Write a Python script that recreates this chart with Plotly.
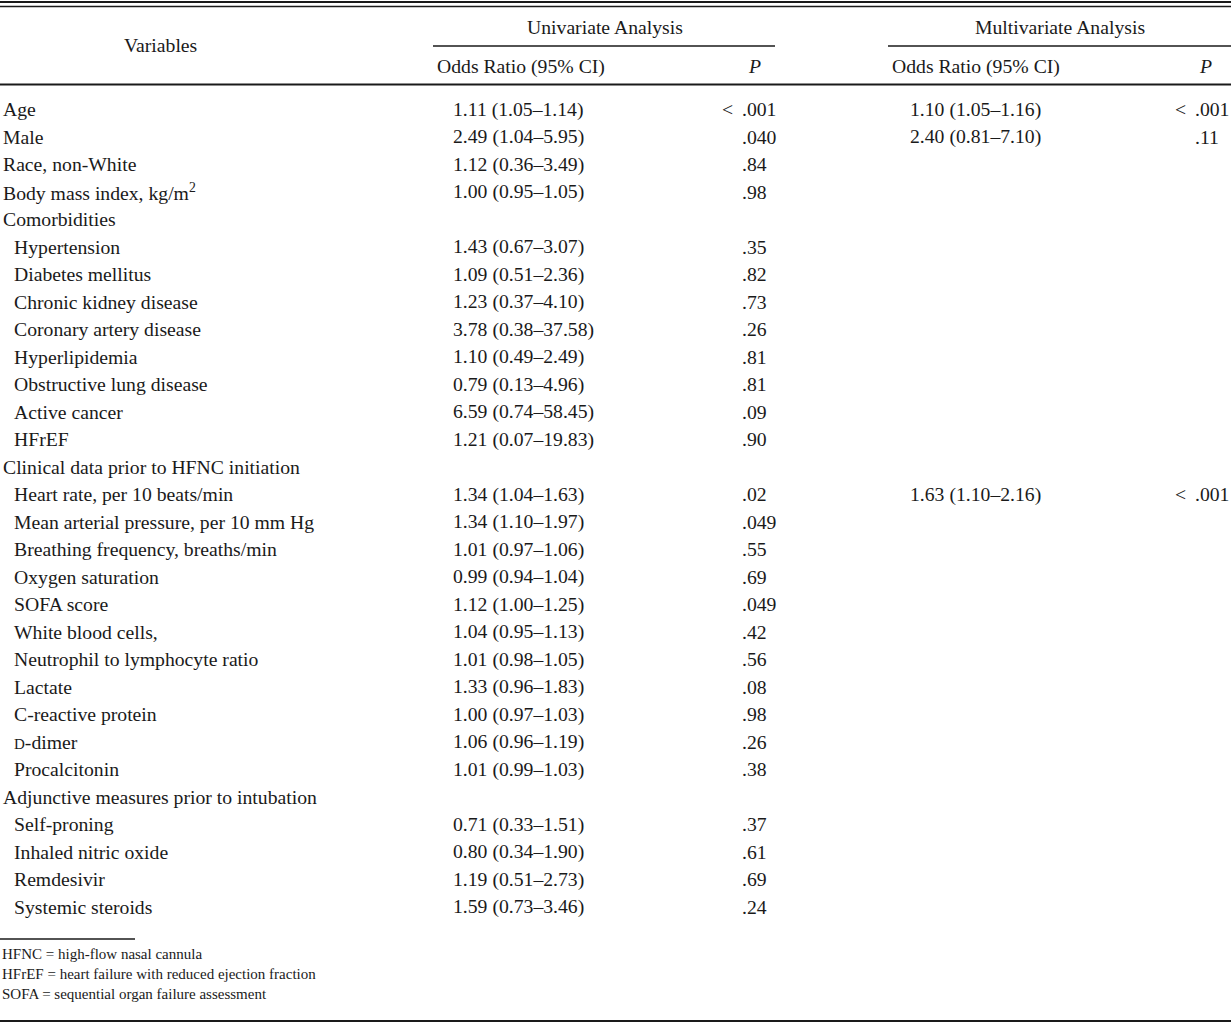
import plotly.graph_objects as go

# ---------------- data ----------------
variables = [
    "Age", "Male", "Race, non-White", "Body mass index, kg/m<sup>2</sup>",
    "Comorbidities", "Hypertension", "Diabetes mellitus", "Chronic kidney disease",
    "Coronary artery disease", "Hyperlipidemia", "Obstructive lung disease",
    "Active cancer", "HFrEF",
    "Clinical data prior to HFNC initiation", "Heart rate, per 10 beats/min",
    "Mean arterial pressure, per 10 mm Hg", "Breathing frequency, breaths/min",
    "Oxygen saturation", "SOFA score", "White blood cells,",
    "Neutrophil to lymphocyte ratio", "Lactate", "C-reactive protein",
    "<span style='font-size:15px'>D</span>-dimer", "Procalcitonin",
    "Adjunctive measures prior to intubation", "Self-proning",
    "Inhaled nitric oxide", "Remdesivir", "Systemic steroids",
]
indent = [0, 0, 0, 0,
          0, 1, 1, 1, 1, 1, 1, 1, 1,
          0, 1, 1, 1, 1, 1, 1, 1, 1, 1, 1, 1,
          0, 1, 1, 1, 1]
uni_or = [
    "1.11 (1.05–1.14)", "2.49 (1.04–5.95)", "1.12 (0.36–3.49)", "1.00 (0.95–1.05)",
    "", "1.43 (0.67–3.07)", "1.09 (0.51–2.36)", "1.23 (0.37–4.10)",
    "3.78 (0.38–37.58)", "1.10 (0.49–2.49)", "0.79 (0.13–4.96)",
    "6.59 (0.74–58.45)", "1.21 (0.07–19.83)",
    "", "1.34 (1.04–1.63)", "1.34 (1.10–1.97)", "1.01 (0.97–1.06)",
    "0.99 (0.94–1.04)", "1.12 (1.00–1.25)", "1.04 (0.95–1.13)",
    "1.01 (0.98–1.05)", "1.33 (0.96–1.83)", "1.00 (0.97–1.03)",
    "1.06 (0.96–1.19)", "1.01 (0.99–1.03)",
    "", "0.71 (0.33–1.51)", "0.80 (0.34–1.90)", "1.19 (0.51–2.73)", "1.59 (0.73–3.46)",
]
uni_p = [
    "< .001", ".040", ".84", ".98",
    "", ".35", ".82", ".73", ".26", ".81", ".81", ".09", ".90",
    "", ".02", ".049", ".55", ".69", ".049", ".42", ".56", ".08", ".98", ".26", ".38",
    "", ".37", ".61", ".69", ".24",
]
multi_or = ["1.10 (1.05–1.16)", "2.40 (0.81–7.10)"] + [""] * 12 + ["1.63 (1.10–2.16)"] + [""] * 15
multi_p = ["< .001", ".11"] + [""] * 12 + ["< .001"] + [""] * 15

header_vars = "Variables"
header_groups = ["Univariate Analysis", "Multivariate Analysis"]
header_sub = ["Odds Ratio (95% CI)", "<i>P</i>"]
footnotes = [
    "HFNC = high-flow nasal cannula",
    "HFrEF = heart failure with reduced ejection fraction",
    "SOFA = sequential organ failure assessment",
]

# ---------------- layout constants ----------------
W, H = 1231, 1024
FONT = "Liberation Serif, Times New Roman, serif"
FS = 19.7
FS_NOTE = 15
ROW0 = 109
ROW_H = 27.5
X_VAR = 1
X_IND = 12
X_UNI_HDR = 435
X_UNI_OR = 451
X_UNI_P = 740
X_MUL_OR_HDR = 890
X_MUL_OR = 908
X_MUL_P = 1193
LT_OFF = 20

fig = go.Figure()

ann = []


def txt(x, y, s, anchor="left", size=FS):
    ann.append(dict(x=x, y=y, xref="x", yref="y", text=s, showarrow=False,
                    xanchor=anchor, yanchor="middle",
                    font=dict(family=FONT, size=size, color="#1a1a1a")))


def ptxt(xdec, y, s):
    if s.startswith("<"):
        txt(xdec - LT_OFF, y, "&lt;")
        txt(xdec, y, s[1:].strip())
    elif s:
        txt(xdec, y, s)


# headers
txt(160, 45, header_vars, anchor="center")
txt(605, 27, header_groups[0], anchor="center")
txt(1060, 27, header_groups[1], anchor="center")
txt(X_UNI_HDR, 66, header_sub[0])
txt(X_MUL_OR_HDR, 66, header_sub[0])
txt(746, 66, header_sub[1])
txt(1197, 66, header_sub[1])

for i, v in enumerate(variables):
    y = ROW0 + i * ROW_H
    txt(X_IND if indent[i] else X_VAR, y, v)
    if uni_or[i]:
        txt(X_UNI_OR, y, uni_or[i])
    ptxt(X_UNI_P, y, uni_p[i])
    if multi_or[i]:
        txt(X_MUL_OR, y, multi_or[i])
    ptxt(X_MUL_P, y, multi_p[i])

for j, f in enumerate(footnotes):
    txt(0, 954 + j * 20, f, size=FS_NOTE)

shapes = []


def hline(x0, x1, y, w):
    shapes.append(dict(type="line", xref="x", yref="y", x0=x0, x1=x1, y0=y, y1=y,
                       line=dict(color="#1a1a1a", width=w)))


hline(0, W, 2, 2)
hline(0, W, 6.5, 1.3)
hline(433, 775, 46, 1.5)
hline(888, W, 46, 1.5)
hline(0, W, 84.5, 2)
hline(0, 135, 939, 1.5)
hline(0, W, 1021, 2)

fig.update_layout(
    width=W, height=H,
    margin=dict(l=0, r=0, t=0, b=0),
    paper_bgcolor="white", plot_bgcolor="white",
    xaxis=dict(range=[0, W], visible=False, fixedrange=True),
    yaxis=dict(range=[H, 0], visible=False, fixedrange=True),
    annotations=ann, shapes=shapes, showlegend=False,
)

fig.write_html("out.html", config={"displayModeBar": False},
               post_script="document.body.style.margin='0';document.body.style.overflow='hidden';")
